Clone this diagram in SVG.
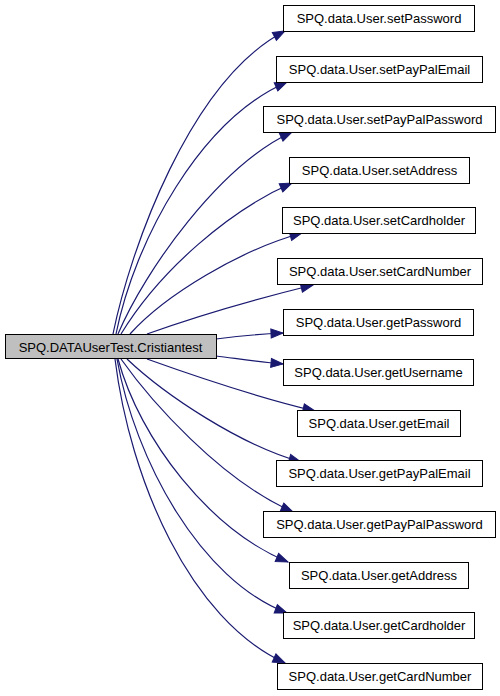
<svg xmlns="http://www.w3.org/2000/svg" width="500" height="696" viewBox="0 0 500 696">
<defs>
<style>
.n rect{fill:#ffffff;stroke:#000000;stroke-width:1}
.n.root rect{fill:#bfbfbf;stroke:#000000}
.n text{font-family:"Liberation Sans",Arial,sans-serif;font-size:13px;text-anchor:middle;fill:#000000}
.e path{fill:none;stroke:#191970;stroke-width:1.2;marker-end:url(#arr)}
</style>
<marker id="arr" markerUnits="userSpaceOnUse" markerWidth="20" markerHeight="20" refX="0" refY="0" orient="auto" overflow="visible">
<path d="M-12,-4.5 L0,0 L-12,4.5 z" fill="#191970" stroke="#191970" stroke-width="1"/>
</marker>
</defs>
<rect width="500" height="696" fill="#ffffff"/>
<g id="edges" class="e">
<path d="M113,334 C130,250 190,80 285,31"/>
<path d="M116,334 C135,240 200,120 287,82"/>
<path d="M118,334 C145,270 220,165 292,132"/>
<path d="M121,334 C160,270 230,210 292,183"/>
<path d="M130,334 C165,295 240,250 302,233"/>
<path d="M147,334 C200,315 260,298 313,285"/>
<path d="M216,339 C240,336 260,334 283,333"/>
<path d="M216,356 C240,359 260,362 283,364"/>
<path d="M147,359 C200,378 260,398 315,411"/>
<path d="M127,359 C165,395 240,445 301,462"/>
<path d="M121,359 C150,400 220,480 293,512"/>
<path d="M118,359 C140,440 210,530 288,562"/>
<path d="M117,359 C135,460 200,580 287,613"/>
<path d="M115,359 C130,480 190,620 285,663"/>
</g>
<g id="root" class="n root"><rect x="5.5" y="334.5" width="211" height="24"/><text x="110.5" y="351.5">SPQ.DATAUserTest.Cristiantest</text></g>
<g id="n1" class="n"><rect x="283.5" y="5.5" width="191" height="26"/><text x="379" y="23">SPQ.data.User.setPassword</text></g>
<g id="n2" class="n"><rect x="276.5" y="56.5" width="206" height="26"/><text x="379.5" y="74">SPQ.data.User.setPayPalEmail</text></g>
<g id="n3" class="n"><rect x="263.5" y="106.5" width="232" height="26"/><text x="379.5" y="124">SPQ.data.User.setPayPalPassword</text></g>
<g id="n4" class="n"><rect x="289.5" y="157.5" width="180" height="26"/><text x="379.5" y="175">SPQ.data.User.setAddress</text></g>
<g id="n5" class="n"><rect x="282.5" y="207.5" width="193" height="26"/><text x="379" y="225">SPQ.data.User.setCardholder</text></g>
<g id="n6" class="n"><rect x="277.5" y="258.5" width="205" height="26"/><text x="380" y="276">SPQ.data.User.setCardNumber</text></g>
<g id="n7" class="n"><rect x="283.5" y="309.5" width="190" height="26"/><text x="378.5" y="327">SPQ.data.User.getPassword</text></g>
<g id="n8" class="n"><rect x="283.5" y="359.5" width="190" height="26"/><text x="378.5" y="377">SPQ.data.User.getUsername</text></g>
<g id="n9" class="n"><rect x="297.5" y="410.5" width="163" height="26"/><text x="379" y="428">SPQ.data.User.getEmail</text></g>
<g id="n10" class="n"><rect x="276.5" y="460.5" width="206" height="26"/><text x="379.5" y="478">SPQ.data.User.getPayPalEmail</text></g>
<g id="n11" class="n"><rect x="263.5" y="511.5" width="232" height="26"/><text x="379.5" y="529">SPQ.data.User.getPayPalPassword</text></g>
<g id="n12" class="n"><rect x="289.5" y="562.5" width="179" height="26"/><text x="379" y="580">SPQ.data.User.getAddress</text></g>
<g id="n13" class="n"><rect x="283.5" y="612.5" width="191" height="26"/><text x="379" y="630">SPQ.data.User.getCardholder</text></g>
<g id="n14" class="n"><rect x="277.5" y="663.5" width="205" height="26"/><text x="380" y="681">SPQ.data.User.getCardNumber</text></g>
</svg>
